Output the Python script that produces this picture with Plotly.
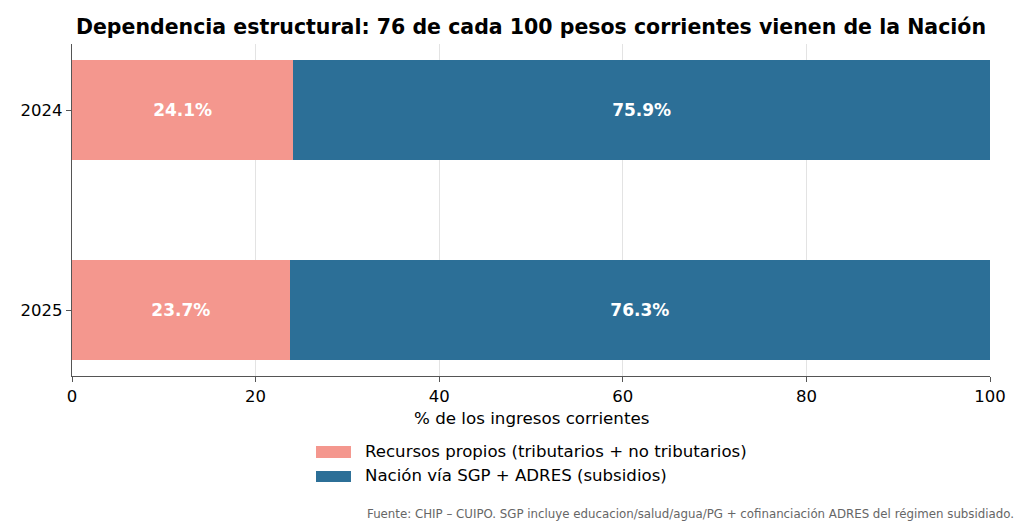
import plotly.graph_objects as go

# Datos
anios = ["2024", "2025"]
propios = [24.1, 23.7]
nacion = [75.9, 76.3]
serie_propios = "Recursos propios (tributarios + no tributarios)"
serie_nacion = "Nación vía SGP + ADRES (subsidios)"
x_ticks = [0, 20, 40, 60, 80, 100]

color_propios = "#F4978E"
color_nacion = "#2C6F97"

fig = go.Figure()
for vals, name, color in [(propios, serie_propios, color_propios),
                          (nacion, serie_nacion, color_nacion)]:
    fig.add_trace(go.Bar(
        y=anios, x=vals, orientation="h", name=name,
        marker=dict(color=color, line=dict(width=0)),
        width=0.5,
        text=[f"{v:.1f}%" for v in vals], textposition="inside",
        insidetextanchor="middle",
        textfont=dict(color="white", size=17, family="DejaVu Sans", weight="bold"),
    ))

# leyenda manual (rectangulos anchos como en matplotlib)
shapes = []
annotations = []
legend_rows = [(serie_propios, color_propios, -0.2108, -0.2470, -0.2289),
               (serie_nacion, color_nacion, -0.2861, -0.3193, -0.3012)]
for name, color, y1, y0, yt in legend_rows:
    shapes.append(dict(type="rect", xref="paper", yref="paper",
                       x0=0.2658, x1=0.3039, y0=y0, y1=y1,
                       fillcolor=color, line=dict(width=0)))
    annotations.append(dict(text=name, xref="paper", yref="paper", x=0.3170, y=yt,
                            xanchor="left", yanchor="middle", showarrow=False,
                            font=dict(size=16.6, color="black")))

# titulo eje x
annotations.append(dict(text="% de los ingresos corrientes", xref="paper", yref="paper",
                        x=0.5, y=-0.1265, xanchor="center", yanchor="middle",
                        showarrow=False, font=dict(size=16.7, color="black")))

# fuente
annotations.append(dict(
    text="Fuente: CHIP – CUIPO. SGP incluye educacion/salud/agua/PG + cofinanciación ADRES del régimen subsidiado.",
    xref="paper", yref="paper", x=1.0284, y=-0.4157, xanchor="right", yanchor="middle",
    showarrow=False, font=dict(size=11.8, color="#666", family="DejaVu Sans"),
))

fig.update_layout(
    width=1024, height=523,
    barmode="stack",
    showlegend=False,
    paper_bgcolor="white", plot_bgcolor="white",
    margin=dict(l=64, r=42, t=36, b=155),
    font=dict(family="DejaVu Sans", size=16, color="black"),
    title=dict(text="<b>Dependencia estructural: 76 de cada 100 pesos corrientes vienen de la Nación</b>",
               xref="container", yref="container",
               x=0.5107, xanchor="center", y=0.9637, yanchor="middle",
               font=dict(size=20.5, color="black")),
    xaxis=dict(range=[0, 100], tickvals=x_ticks, showgrid=True, gridcolor="#e3e3e3",
               showline=True, linecolor="#555", linewidth=1.2, ticks="outside",
               ticklen=5, tickcolor="#555", zeroline=False,
               tickfont=dict(size=16.5)),
    yaxis=dict(type="category", categoryorder="array", categoryarray=anios,
               range=[1.33, -0.33], showgrid=False, showline=True, linecolor="#555",
               linewidth=1.2, ticks="outside", ticklen=5, tickcolor="#555",
               tickfont=dict(size=16.5)),
    shapes=shapes,
    annotations=annotations,
)

fig.write_html("out.html")
